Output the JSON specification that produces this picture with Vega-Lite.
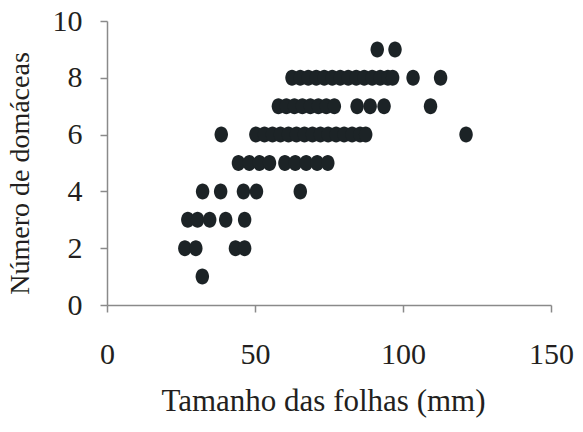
{
  "$schema": "https://vega.github.io/schema/vega-lite/v6.json",
  "autosize": "none",
  "width": 444,
  "height": 284,
  "padding": {"left": 107, "top": 21, "right": 32, "bottom": 127},
  "background": "white",
  "config": {
    "view": {"stroke": null},
    "font": "Liberation Serif",
    "axis": {
      "grid": false,
      "domainColor": "#8a8a8a",
      "tickColor": "#8a8a8a",
      "domainWidth": 1.5,
      "tickWidth": 1.5,
      "tickSize": 7,
      "labelFont": "Liberation Serif",
      "titleFont": "Liberation Serif",
      "labelFontSize": 30,
      "titleFontSize": 30,
      "labelColor": "#231f20",
      "titleColor": "#231f20",
      "titleFontWeight": "normal"
    }
  },
  "data": {
    "values": [
      {"x": 32.2, "y": 1},
      {"x": 26.3, "y": 2}, {"x": 30.0, "y": 2}, {"x": 43.4, "y": 2}, {"x": 46.5, "y": 2},
      {"x": 27.3, "y": 3}, {"x": 30.6, "y": 3}, {"x": 34.7, "y": 3}, {"x": 40.1, "y": 3}, {"x": 46.5, "y": 3},
      {"x": 32.3, "y": 4}, {"x": 38.4, "y": 4}, {"x": 46.1, "y": 4}, {"x": 50.5, "y": 4}, {"x": 65.3, "y": 4},
      {"x": 44.4, "y": 5}, {"x": 48.1, "y": 5}, {"x": 51.5, "y": 5}, {"x": 54.9, "y": 5}, {"x": 60.1, "y": 5}, {"x": 63.6, "y": 5}, {"x": 67.3, "y": 5}, {"x": 71.0, "y": 5}, {"x": 74.6, "y": 5},
      {"x": 38.6, "y": 6}, {"x": 50.3, "y": 6}, {"x": 53.2, "y": 6}, {"x": 55.9, "y": 6}, {"x": 58.6, "y": 6}, {"x": 61.3, "y": 6}, {"x": 64.0, "y": 6}, {"x": 66.7, "y": 6}, {"x": 69.4, "y": 6}, {"x": 72.1, "y": 6}, {"x": 74.7, "y": 6}, {"x": 77.4, "y": 6}, {"x": 80.1, "y": 6}, {"x": 82.8, "y": 6}, {"x": 85.5, "y": 6}, {"x": 87.4, "y": 6}, {"x": 121.3, "y": 6},
      {"x": 57.9, "y": 7}, {"x": 60.6, "y": 7}, {"x": 63.3, "y": 7}, {"x": 66.0, "y": 7}, {"x": 68.7, "y": 7}, {"x": 71.4, "y": 7}, {"x": 74.1, "y": 7}, {"x": 76.8, "y": 7}, {"x": 84.5, "y": 7}, {"x": 88.9, "y": 7}, {"x": 93.6, "y": 7}, {"x": 109.3, "y": 7},
      {"x": 62.5, "y": 8}, {"x": 65.3, "y": 8}, {"x": 68.0, "y": 8}, {"x": 70.7, "y": 8}, {"x": 73.4, "y": 8}, {"x": 76.1, "y": 8}, {"x": 78.8, "y": 8}, {"x": 81.5, "y": 8}, {"x": 84.2, "y": 8}, {"x": 86.9, "y": 8}, {"x": 89.6, "y": 8}, {"x": 92.3, "y": 8}, {"x": 94.9, "y": 8}, {"x": 96.5, "y": 8}, {"x": 103.4, "y": 8}, {"x": 112.7, "y": 8},
      {"x": 91.3, "y": 9}, {"x": 97.3, "y": 9}
    ]
  },
  "mark": {
    "type": "point",
    "filled": true,
    "opacity": 1,
    "color": "#1c2326",
    "shape": "M -0.84 0 A 0.84 1 0 1 0 0.84 0 A 0.84 1 0 1 0 -0.84 0 Z",
    "size": 256
  },
  "encoding": {
    "x": {
      "field": "x",
      "type": "quantitative",
      "scale": {"domain": [0, 150], "nice": false, "zero": false},
      "axis": {"values": [0, 50, 100, 150], "title": "Tamanho das folhas (mm)", "titleFontSize": 31, "titleX": 216, "labelPadding": 27, "titlePadding": 17, "labelFlush": false}
    },
    "y": {
      "field": "y",
      "type": "quantitative",
      "scale": {"domain": [0, 10], "nice": false},
      "axis": {"values": [0, 2, 4, 6, 8, 10], "title": "Número de domáceas", "titleFontSize": 28, "titleY": 152, "labelPadding": 18, "titlePadding": 18, "labelFlush": false}
    }
  }
}
